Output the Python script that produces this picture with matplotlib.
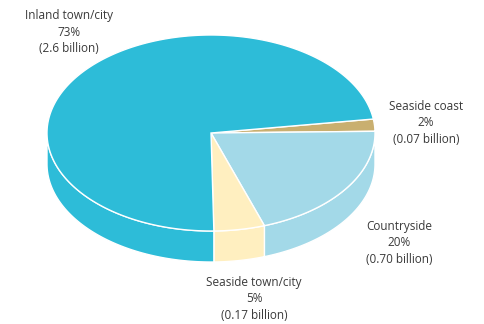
import matplotlib
matplotlib.use("Agg")
import matplotlib.pyplot as plt
from matplotlib.patches import Polygon
import numpy as np

# data, in clockwise order starting from the right
categories = ["Seaside coast", "Countryside", "Seaside town/city", "Inland town/city"]
percents = [2, 20, 5, 73]
billions = ["0.07", "0.70", "0.17", "2.6"]

colors = ["#C9AF70", "#A3D9E8", "#FFEFC0", "#2DBCD8"]

# ellipse geometry (pixel coords)
cx, cy = 211, 133
rx, ry = 164, 98
depth = 31
start = 8.2

fig = plt.figure(figsize=(4.84, 3.24), dpi=100)
ax = fig.add_axes([0, 0, 1, 1])
ax.set_xlim(0, 484)
ax.set_ylim(324, 0)
ax.axis("off")


def arc(t1, t2, dy=0):
    t = np.radians(np.linspace(t1, t2, 200))
    return np.column_stack([cx + rx * np.cos(t), cy - ry * np.sin(t) + dy])


# slice angles (degrees)
bounds = []
a = start
for p in percents:
    b = a - p * 3.6
    bounds.append((b, a))
    a = b

# side faces, only the front half (180..360) is visible
for (t1, t2), c in zip(bounds, colors):
    lo = t1 % 360
    hi = lo + (t2 - t1)
    for shift in (-360, 0, 360):
        s1 = max(lo + shift, 180)
        s2 = min(hi + shift, 360)
        if s2 > s1:
            top = arc(s1, s2)
            bot = arc(s2, s1, depth)
            ax.add_patch(Polygon(np.vstack([top, bot]), closed=True, fc=c,
                                 ec="white", lw=1.0, zorder=1))

# top faces
for (t1, t2), c in zip(bounds, colors):
    pts = np.vstack([[cx, cy], arc(t1, t2)])
    ax.add_patch(Polygon(pts, closed=True, fc=c, ec="white", lw=1.0, zorder=2))

# labels (centre of the middle line)
label_pos = [(426, 123), (399, 243), (254, 299), (69, 32)]
for name, p, v, (x, y) in zip(categories, percents, billions, label_pos):
    ax.text(x, y, f"{name}\n{p}%\n({v} billion)", ha="center", va="center",
            fontsize=8.5, color="#3a3a3a", family="Open Sans",
            linespacing=1.38, zorder=3)

fig.savefig("out.png", dpi=100)
